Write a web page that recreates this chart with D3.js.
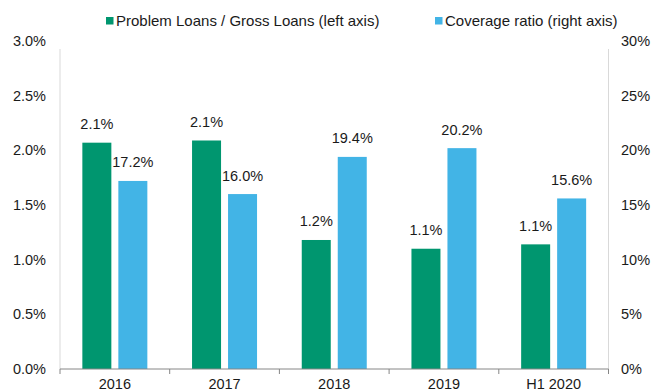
<!DOCTYPE html>
<html>
<head>
<meta charset="utf-8">
<script src="https://cdn.jsdelivr.net/npm/d3@7"></script>
<style>
  body { margin: 0; background: #fff; }
  text { font-family: "Liberation Sans", Arial, sans-serif; fill: #1a1a1a; }
</style>
</head>
<body>
<div id="container"></div>
<script>
const categories = ["2016", "2017", "2018", "2019", "H1 2020"];
const problemLoans = [2.07, 2.09, 1.18, 1.10, 1.14];   // % of gross loans (left axis)
const coverage = [17.2, 16.0, 19.4, 20.2, 15.6];        // % (right axis)
const leftTicks = [0, 0.5, 1.0, 1.5, 2.0, 2.5, 3.0];
const rightTicks = [0, 5, 10, 15, 20, 25, 30];
const seriesNames = ["Problem Loans / Gross Loans (left axis)", "Coverage ratio (right axis)"];

const width = 654, height = 391;
const plotLeft = 60, plotRight = 608.5, plotTop = 41, plotBottom = 369;
const green = "#00966f", blue = "#42b4e6";
const fs = "14.5px";

const svg = d3.select("#container").append("svg")
  .attr("width", width).attr("height", height);

const x0 = d3.scaleBand().domain(categories).range([plotLeft, plotRight])
  .paddingInner(0.4075).paddingOuter(0.20375);
const x1 = d3.scaleBand().domain([0, 1]).range([0, x0.bandwidth()]).paddingInner(0.1944);
const yL = d3.scaleLinear().domain([0, 3]).range([plotBottom, plotTop]);
const yR = d3.scaleLinear().domain([0, 30]).range([plotBottom, plotTop]);

// side axis lines
svg.append("line").attr("x1", plotLeft).attr("x2", plotLeft).attr("y1", 49).attr("y2", plotBottom)
  .attr("stroke", "#d9d9d9");
svg.append("line").attr("x1", plotRight).attr("x2", plotRight).attr("y1", 49).attr("y2", plotBottom)
  .attr("stroke", "#d9d9d9");

// left tick labels
svg.append("g").selectAll("text").data(leftTicks).join("text")
  .attr("x", 46).attr("y", d => yL(d)).attr("dy", "0.35em")
  .attr("text-anchor", "end").style("font-size", fs)
  .text(d => d.toFixed(1) + "%");

// right tick labels
svg.append("g").selectAll("text").data(rightTicks).join("text")
  .attr("x", 621).attr("y", d => yR(d)).attr("dy", "0.35em")
  .attr("text-anchor", "start").style("font-size", fs)
  .text(d => d + "%");

// bars
const groups = svg.append("g").selectAll("g").data(categories).join("g")
  .attr("transform", d => `translate(${x0(d)},0)`);

groups.append("rect")
  .attr("x", x1(0)).attr("width", x1.bandwidth())
  .attr("y", (d, i) => yL(problemLoans[i]))
  .attr("height", (d, i) => plotBottom - yL(problemLoans[i]))
  .attr("fill", green);

groups.append("rect")
  .attr("x", x1(1)).attr("width", x1.bandwidth())
  .attr("y", (d, i) => yR(coverage[i]))
  .attr("height", (d, i) => plotBottom - yR(coverage[i]))
  .attr("fill", blue);

groups.append("text")
  .attr("x", x1(0) + x1.bandwidth() / 2)
  .attr("y", (d, i) => yL(problemLoans[i]) - 13.5)
  .attr("text-anchor", "middle").style("font-size", fs)
  .text((d, i) => problemLoans[i].toFixed(1) + "%");

groups.append("text")
  .attr("x", x1(1) + x1.bandwidth() / 2)
  .attr("y", (d, i) => yR(coverage[i]) - 13.5)
  .attr("text-anchor", "middle").style("font-size", fs)
  .text((d, i) => coverage[i].toFixed(1) + "%");

// baseline + category ticks
svg.append("line").attr("x1", plotLeft).attr("x2", plotRight).attr("y1", plotBottom).attr("y2", plotBottom)
  .attr("stroke", "#868686");
const bounds = d3.range(categories.length + 1).map(i => plotLeft + i * x0.step());
svg.append("g").selectAll("line").data(bounds).join("line")
  .attr("x1", d => d).attr("x2", d => d).attr("y1", plotBottom).attr("y2", plotBottom + 5)
  .attr("stroke", "#868686");

svg.append("g").selectAll("text").data(categories).join("text")
  .attr("x", d => x0(d) + x0.bandwidth() / 2).attr("y", 389)
  .attr("text-anchor", "middle").style("font-size", fs)
  .text(d => d);

// legend
const legend = [
  { name: seriesNames[0], color: green, x: 106 },
  { name: seriesNames[1], color: blue, x: 435 }
];
const lg = svg.append("g").selectAll("g").data(legend).join("g")
  .attr("transform", d => `translate(${d.x},17)`);
lg.append("rect").attr("width", 7.5).attr("height", 7.5).attr("fill", d => d.color);
lg.append("text").attr("x", 10).attr("y", 9).style("font-size", "15px").text(d => d.name);
</script>
</body>
</html>
